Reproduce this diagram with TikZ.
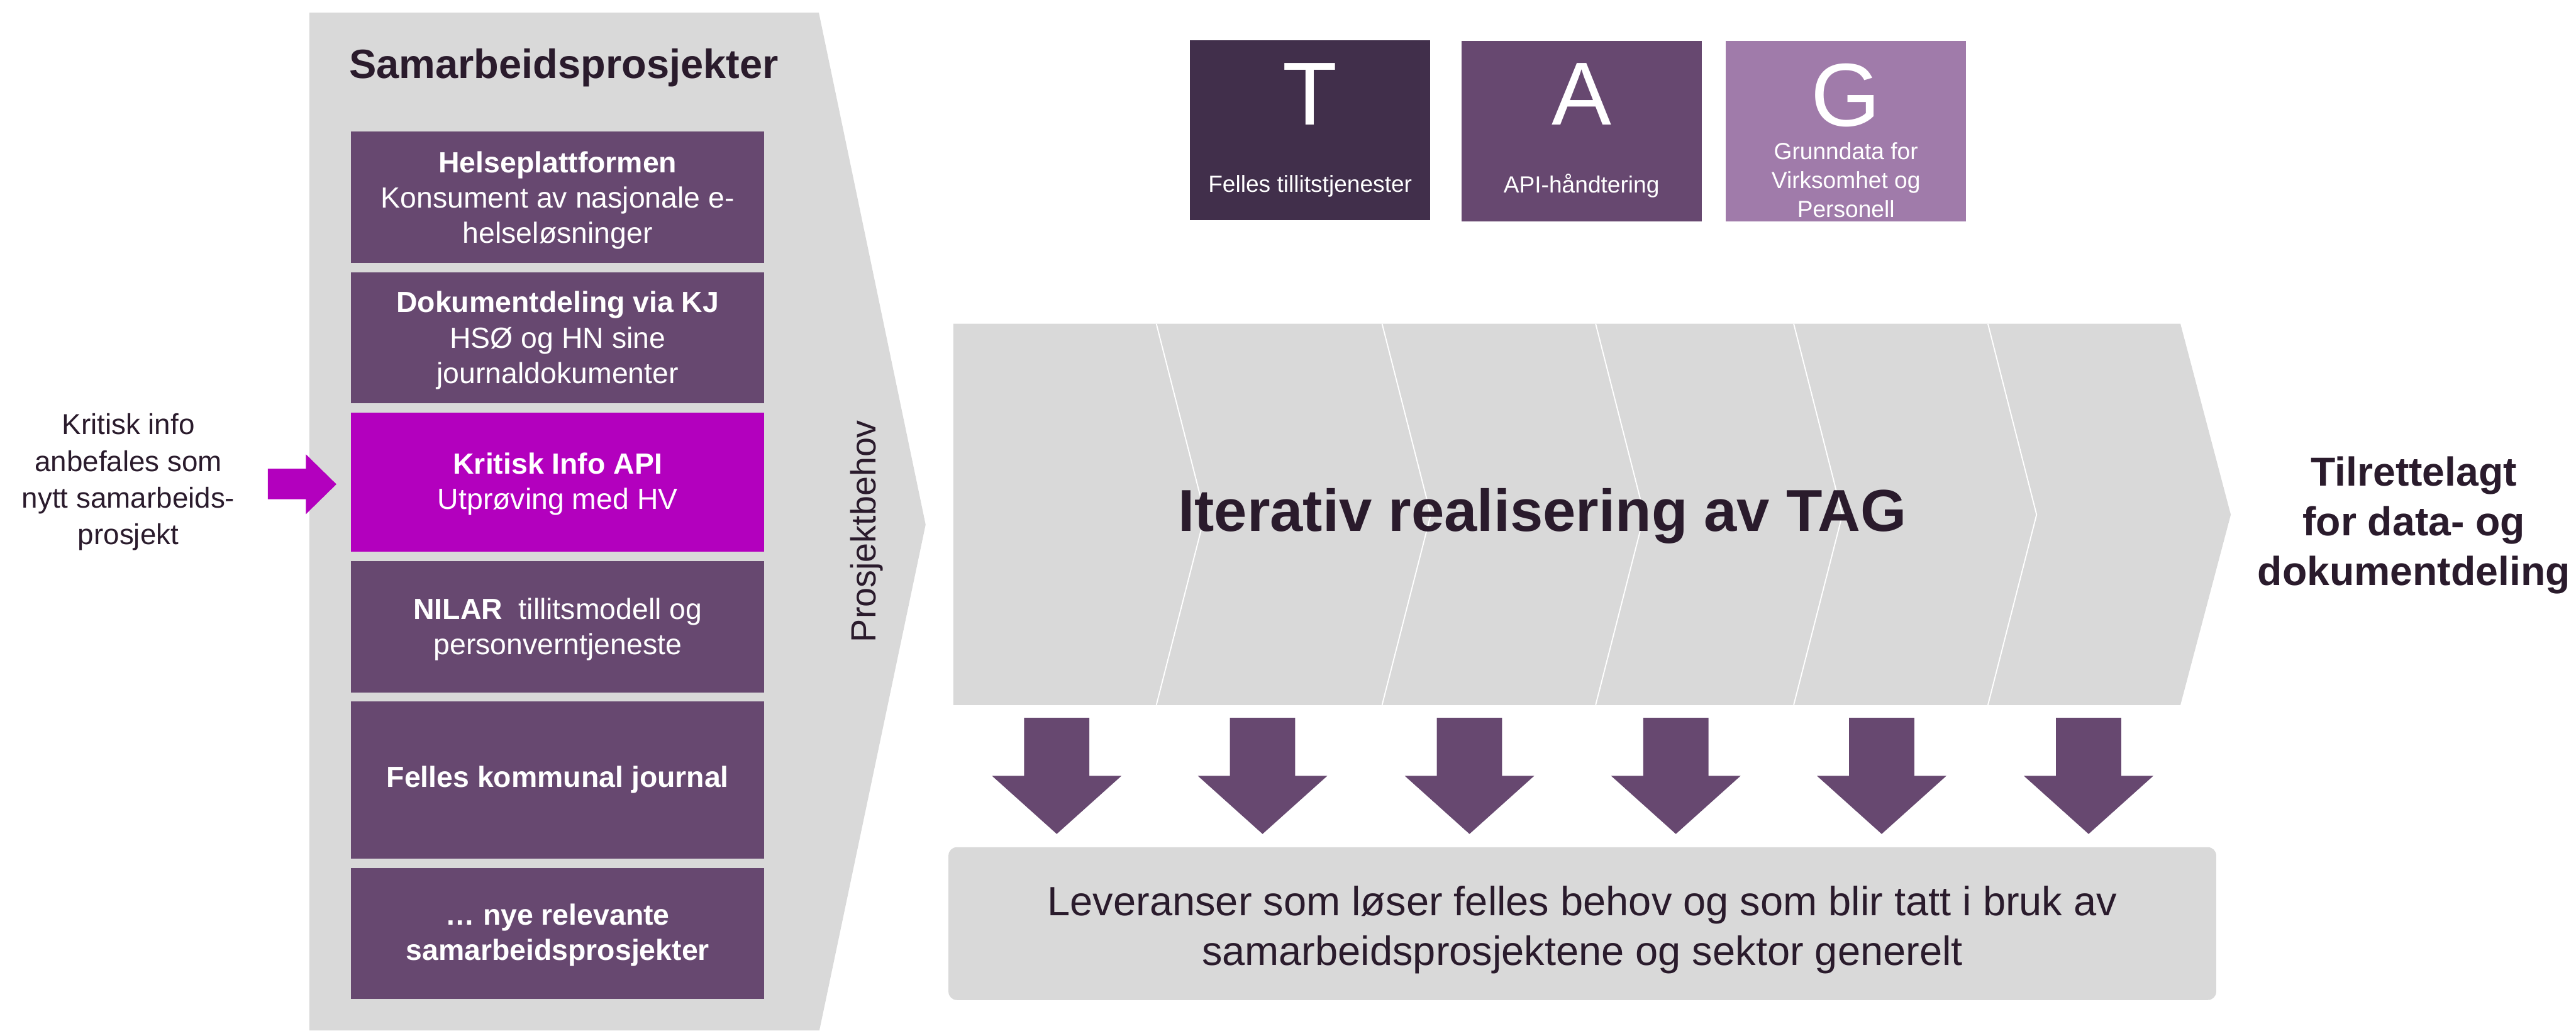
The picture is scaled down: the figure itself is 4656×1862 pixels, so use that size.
\documentclass[tikz,border=0pt]{standalone}
\usepackage{fontspec}
\setmainfont{Liberation Sans}
\definecolor{panelgray}{HTML}{D9D9D9}
\definecolor{plum}{HTML}{674870}
\definecolor{plumdark}{HTML}{412F4B}
\definecolor{plumlight}{HTML}{A07BAA}
\definecolor{vivid}{HTML}{B300BE}
\definecolor{ink}{HTML}{2A1B2C}
\begin{document}
\begin{tikzpicture}[x=0.01cm,y=-0.01cm,
  projbox/.style={fill=plum, text=white, minimum width=7.46cm, inner sep=0pt,
    align=center, font=\fontsize{15}{18.2}\selectfont},
  tagbox/.style={inner sep=0pt, minimum width=4.34cm, minimum height=3.25cm},
  tagletter/.style={text=white, inner sep=0pt, font=\fontsize{46}{50}\selectfont},
  tagcaption/.style={text=white, inner sep=0pt, align=center, font=\fontsize{12}{14.8}\selectfont},
  plaintext/.style={text=ink, inner sep=0pt, align=center},
  downarrow/.style={fill=plum}
]
\path[use as bounding box] (0,0) rectangle (4656,1862);

% collaboration panel (chevron-ended)
\fill[panelgray] (559,23) -- (1480,23) -- (1673,948) -- (1481,1862) -- (559,1862) -- cycle;
\node[plaintext, font=\bfseries\fontsize{21}{25}\selectfont] (title) at (1019,122) {Samarbeidsprosjekter};

% project boxes
\node[projbox, minimum height=2.37cm] (p1) at (1008,356.5) {};
\node[projbox] (p1t) at (1008,362)
  {\textbf{Helseplattformen}\\Konsument av nasjonale e-\\helseløsninger};
\node[projbox, minimum height=2.36cm] (p2) at (1008,610) {};
\node[projbox] (p2t) at (1008,615)
  {\textbf{Dokumentdeling via KJ}\\HSØ og HN sine\\journaldokumenter};
\node[projbox, fill=vivid, minimum height=2.51cm] (p3) at (1008,871.5) {};
\node[projbox, fill=vivid] (p3t) at (1008,875)
  {\textbf{Kritisk Info API}\\Utprøving med HV};
\node[projbox, minimum height=2.37cm] (p4) at (1008,1132.5) {};
\node[projbox] (p4t) at (1008,1137)
  {\textbf{NILAR}\ \ tillitsmodell og\\personverntjeneste};
\node[projbox, font=\bfseries\fontsize{15}{18.2}\selectfont, minimum height=2.83cm] (p5) at (1008,1409.5)
  {Felles kommunal journal};
\node[projbox, minimum height=2.36cm] (p6) at (1008,1687) {};
\node[projbox, font=\bfseries\fontsize{15}{18.2}\selectfont] (p6t) at (1008,1690)
  {… nye relevante\\samarbeidsprosjekter};

% incoming recommendation
\node[plaintext, font=\fontsize{14.8}{18.8}\selectfont] (kritisk) at (232,871)
  {Kritisk info\\anbefales som\\nytt samarbeids-\\prosjekt};
\fill[vivid] (484,847) -- (553,847) -- (553,821) -- (608,875) -- (553,929)
  -- (553,902) -- (484,902) -- cycle;

% side label of the panel
\node[plaintext, rotate=90, font=\fontsize{18}{21}\selectfont] (behov) at (1566,960) {Prosjektbehov};

% TAG boxes
\node[tagbox, fill=plumdark] (tbox) at (2368,235) {};
\node[tagbox, fill=plum] (abox) at (2858.5,237) {};
\node[tagbox, fill=plumlight] (gbox) at (3336.5,237) {};
\node[tagletter] (tl) at (2368,170) {T};
\node[tagletter] (al) at (2858.5,170) {A};
\node[tagletter] (gl) at (3336.5,172) {G};
\node[tagcaption] (tc) at (2368,336) {Felles tillitstjenester};
\node[tagcaption] (ac) at (2858.5,336) {API-håndtering};
\node[tagcaption, anchor=north] (gc) at (3336.5,257) {Grunndata for\\Virksomhet og\\Personell};

% iterative realisation band
\fill[panelgray] (1723,585) -- (3941,585) -- (4032,930) -- (3941,1274) -- (1723,1274) -- cycle;
\foreach \tx in {2090,2498,2884,3242,3593}
  \draw[white, line width=0.6pt] (\tx,585) -- (\tx+88,930) -- (\tx,1274);
\node[plaintext, font=\bfseries\fontsize{30.4}{34}\selectfont] (iter) at (2788,932) {Iterativ realisering av TAG};

\node[plaintext, font=\bfseries\fontsize{20.8}{25.6}\selectfont] (result) at (4363,949)
  {Tilrettelagt\\for data- og\\dokumentdeling};

% deliveries
\foreach \cx in {1910,2282,2656,3029,3401,3775}
  \fill[downarrow] (\cx-59,1297) -- (\cx+59,1297) -- (\cx+59,1402) -- (\cx+117,1402)
    -- (\cx,1507) -- (\cx-117,1402) -- (\cx-59,1402) -- cycle;
\node[fill=panelgray, rounded corners=0.15cm, minimum width=22.9cm, minimum height=2.76cm,
  inner sep=0pt] (lev) at (2860,1669) {};
\node[plaintext, font=\fontsize{21}{25.6}\selectfont] (levtext) at (2860,1680)
  {Leveranser som løser felles behov og som blir tatt i bruk av\\samarbeidsprosjektene og sektor generelt};
\end{tikzpicture}
\end{document}
